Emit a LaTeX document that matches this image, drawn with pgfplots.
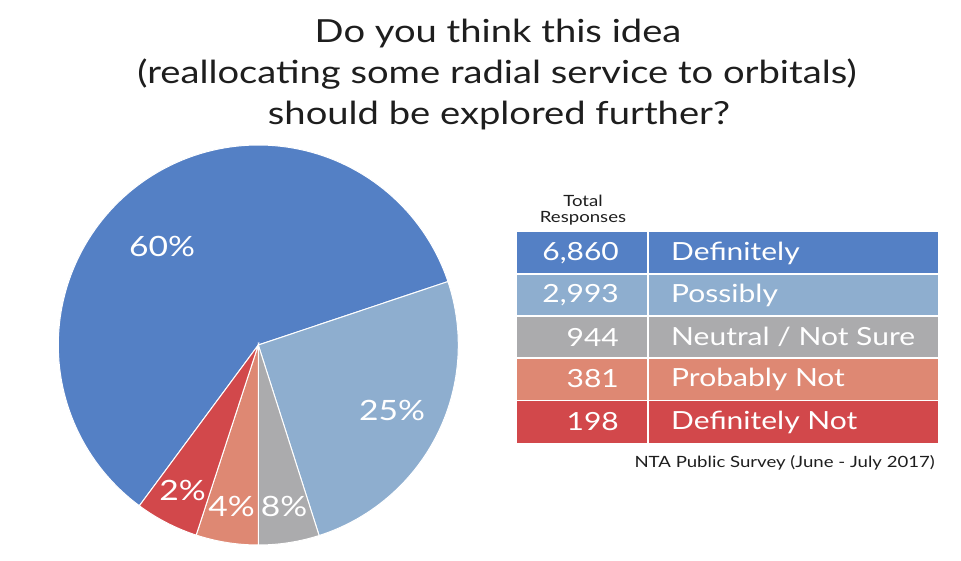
\documentclass[border=0pt]{standalone}
\usepackage{pgfplots}
\pgfplotsset{compat=1.18}
\usepackage{fontspec}
\setmainfont{Lato}[FakeStretch=1.2]
\definecolor{cBlue}{HTML}{5480C5}
\definecolor{cLBlue}{HTML}{8EAECF}
\definecolor{cGray}{HTML}{ABABAD}
\definecolor{cSalmon}{HTML}{DE8873}
\definecolor{cRed}{HTML}{D2484B}
\definecolor{cText}{HTML}{1E1E1E}
\begin{document}
\begin{tikzpicture}
\begin{axis}[scale only axis, width=961pt, height=561pt,
  xmin=0, xmax=961, ymin=0, ymax=561, y dir=reverse,
  hide axis, clip=false]
\path (axis cs:0,0) rectangle (axis cs:961,561);
% pie slices (drawn angles, degrees; centre 258.3,345, radius 200)
\addplot[fill=cBlue, draw=white, line width=1pt, domain=18.5:233.5, samples=120]
  ({258.3+200*cos(x)},{345-200*sin(x)}) -- (axis cs:258.3,345) -- cycle;
\addplot[fill=cLBlue, draw=white, line width=1pt, domain=-72.3:18.5, samples=60]
  ({258.3+200*cos(x)},{345-200*sin(x)}) -- (axis cs:258.3,345) -- cycle;
\addplot[fill=cGray, draw=white, line width=1pt, domain=-90:-72.3, samples=20]
  ({258.3+200*cos(x)},{345-200*sin(x)}) -- (axis cs:258.3,345) -- cycle;
\addplot[fill=cSalmon, draw=white, line width=1pt, domain=-108.1:-90, samples=20]
  ({258.3+200*cos(x)},{345-200*sin(x)}) -- (axis cs:258.3,345) -- cycle;
\addplot[fill=cRed, draw=white, line width=1pt, domain=-126.5:-108.1, samples=20]
  ({258.3+200*cos(x)},{345-200*sin(x)}) -- (axis cs:258.3,345) -- cycle;
% slice labels
\tikzset{pl/.style={text=white, font=\fontsize{28}{30}\selectfont, inner sep=0pt}}
\node[pl] at (axis cs:162,246) {60\%};
\node[pl] at (axis cs:392,410) {25\%};
\node[pl] at (axis cs:182.5,490) {2\%};
\node[pl] at (axis cs:231.5,506) {4\%};
\node[pl] at (axis cs:284,506) {8\%};
% title
\tikzset{tl/.style={text=cText, font=\fontsize{31.8}{32}\selectfont, inner sep=0pt, anchor=base}}
\node[tl] at (axis cs:498,43) {Do you think this idea};
\node[tl] at (axis cs:497,84) {(reallocating some radial service to orbitals)};
\node[tl] at (axis cs:499,125) {should be explored further?};
% response table
\fill[cBlue]   (axis cs:517,232) rectangle (axis cs:938,274);
\fill[cLBlue]  (axis cs:517,274) rectangle (axis cs:938,316);
\fill[cGray]   (axis cs:517,316) rectangle (axis cs:938,358);
\fill[cSalmon] (axis cs:517,358) rectangle (axis cs:938,400.5);
\fill[cRed]    (axis cs:517,400.5) rectangle (axis cs:938,443);
\draw[white, line width=1.6pt] (axis cs:517,274) -- (axis cs:938,274)
  (axis cs:517,316) -- (axis cs:938,316) (axis cs:517,358) -- (axis cs:938,358)
  (axis cs:517,400.5) -- (axis cs:938,400.5) (axis cs:648,232) -- (axis cs:648,443);
\tikzset{nm/.style={text=white, font=\fontsize{25}{26}\selectfont, anchor=east, inner sep=0pt},
         lb/.style={text=white, font=\fontsize{25}{26}\selectfont, anchor=west, inner sep=0pt}}
\node[nm] at (axis cs:619,253) {6,860};
\node[nm] at (axis cs:619,295) {2,993};
\node[nm] at (axis cs:619,337) {944};
\node[nm] at (axis cs:619,379) {381};
\node[nm] at (axis cs:619,422) {198};
\node[lb] at (axis cs:671,253) {Definitely};
\node[lb] at (axis cs:671,295) {Possibly};
\node[lb] at (axis cs:671,337) {Neutral / Not Sure};
\node[lb] at (axis cs:671,379) {Probably Not};
\node[lb] at (axis cs:671,422) {Definitely Not};
\node[align=center, font=\fontsize{15.5}{16}\selectfont, text=cText, inner sep=0pt, anchor=base] at (axis cs:583,207) {Total};
\node[font=\fontsize{15.5}{16}\selectfont, text=cText, inner sep=0pt, anchor=base] at (axis cs:583,223) {Responses};
\node[anchor=base east, font=\fontsize{15.5}{17}\selectfont, text=cText, inner sep=0pt] at (axis cs:935,467) {NTA Public Survey (June - July 2017)};
\end{axis}
\end{tikzpicture}
\end{document}
